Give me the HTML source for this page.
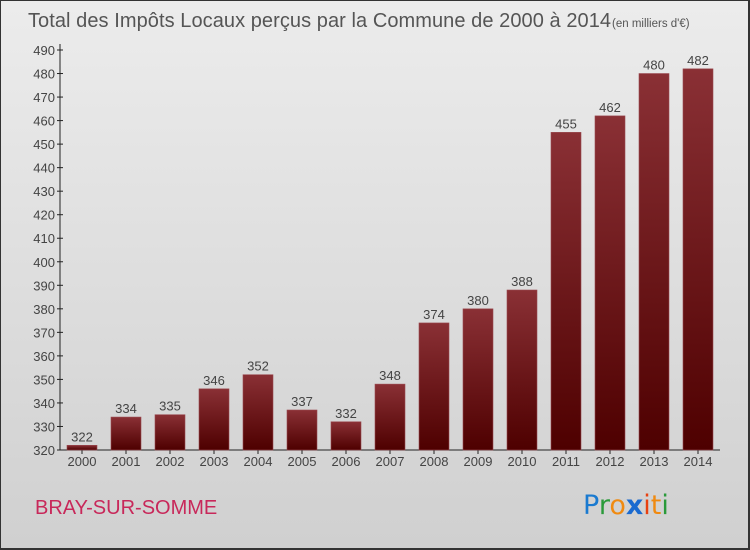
<!DOCTYPE html>
<html><head><meta charset="utf-8"><style>
body{margin:0;width:750px;height:550px;overflow:hidden;font-family:"Liberation Sans",sans-serif}
#frame{position:absolute;left:0;top:0;border:1px solid #333;border-right-width:2px;border-bottom-width:2px;box-sizing:border-box;width:750px;height:550px;background:linear-gradient(#ececec,#d0d0d0)}
</style></head><body>
<div id="frame">
<svg width="750" height="550" id="chart" style="position:absolute;left:-1px;top:-1px">
<defs><linearGradient id="bg" x1="0" y1="0" x2="0" y2="1"><stop offset="0" stop-color="#8a3035"/><stop offset="1" stop-color="#4e0000"/></linearGradient></defs>
<text x="28" y="27" font-size="20" fill="#555" textLength="583">Total des Impôts Locaux perçus par la Commune de 2000 à 2014</text>
<text x="612" y="27" font-size="11.5" fill="#555">(en milliers d'€)</text>
<text x="35" y="514" font-size="20" fill="#c8285a">BRAY-SUR-SOMME</text>
<g font-size="27" font-family="'DejaVu Sans',sans-serif">
<text x="583" y="514"><tspan fill="#1a7ad0">P</tspan><tspan fill="#2a9a3a">r</tspan><tspan fill="#f08a10">o</tspan><tspan fill="#1a6ad0" font-weight="bold">x</tspan><tspan fill="#e84010">i</tspan><tspan fill="#f08a10">t</tspan><tspan fill="#2a9a3a">i</tspan></text>
</g>
<g id="axes"></g><g id="bars"></g>
</svg></div>
<script>
const years=["2000","2001","2002","2003","2004","2005","2006","2007","2008","2009","2010","2011","2012","2013","2014"];
const values=[322,334,335,346,352,337,332,348,374,380,388,455,462,480,482];
const yTicks=[320,330,340,350,360,370,380,390,400,410,420,430,440,450,460,470,480,490];
const NS="http://www.w3.org/2000/svg";
const y=v=>450-(v-320)*400/170;
const x=i=>82+i*44;
function mk(t,a,p){const e=document.createElementNS(NS,t);for(const k in a)e.setAttribute(k,a[k]);p.appendChild(e);return e;}
const ax=document.getElementById('axes'),bg=document.getElementById('bars');
const yl=mk('line',{x1:60,y1:44,x2:60,y2:450,stroke:'#222'},ax);


const xl=mk('line',{x1:60,y1:450,x2:720,y2:450,stroke:'#222'},ax);


yTicks.forEach(v=>{
 mk('line',{x1:57,x2:63,y1:y(v),y2:y(v),stroke:'#222'},ax);
 const t=mk('text',{x:55,y:y(v)+5,'text-anchor':'end','font-size':13,fill:'#444'},ax);
 t.textContent=v;
 
 
});
years.forEach((yr,i)=>{
 const v=values[i];
 const r=mk('rect',{x:x(i)-15,y:y(v),width:30,height:450-y(v),fill:'url(#bg)',stroke:'#9a4a50','stroke-width':0.6},bg);
 
 
 const l=mk('text',{x:x(i),y:y(v)-4,'text-anchor':'middle','font-size':13,fill:'#444'},bg);
 l.textContent=v;
 
 
 mk('line',{x1:x(i),x2:x(i),y1:450,y2:454,stroke:'#222'},ax);
 const t=mk('text',{x:x(i),y:466,'text-anchor':'middle','font-size':13,fill:'#444'},ax);
 t.textContent=yr;
 
 
});
</script>
</body></html>
